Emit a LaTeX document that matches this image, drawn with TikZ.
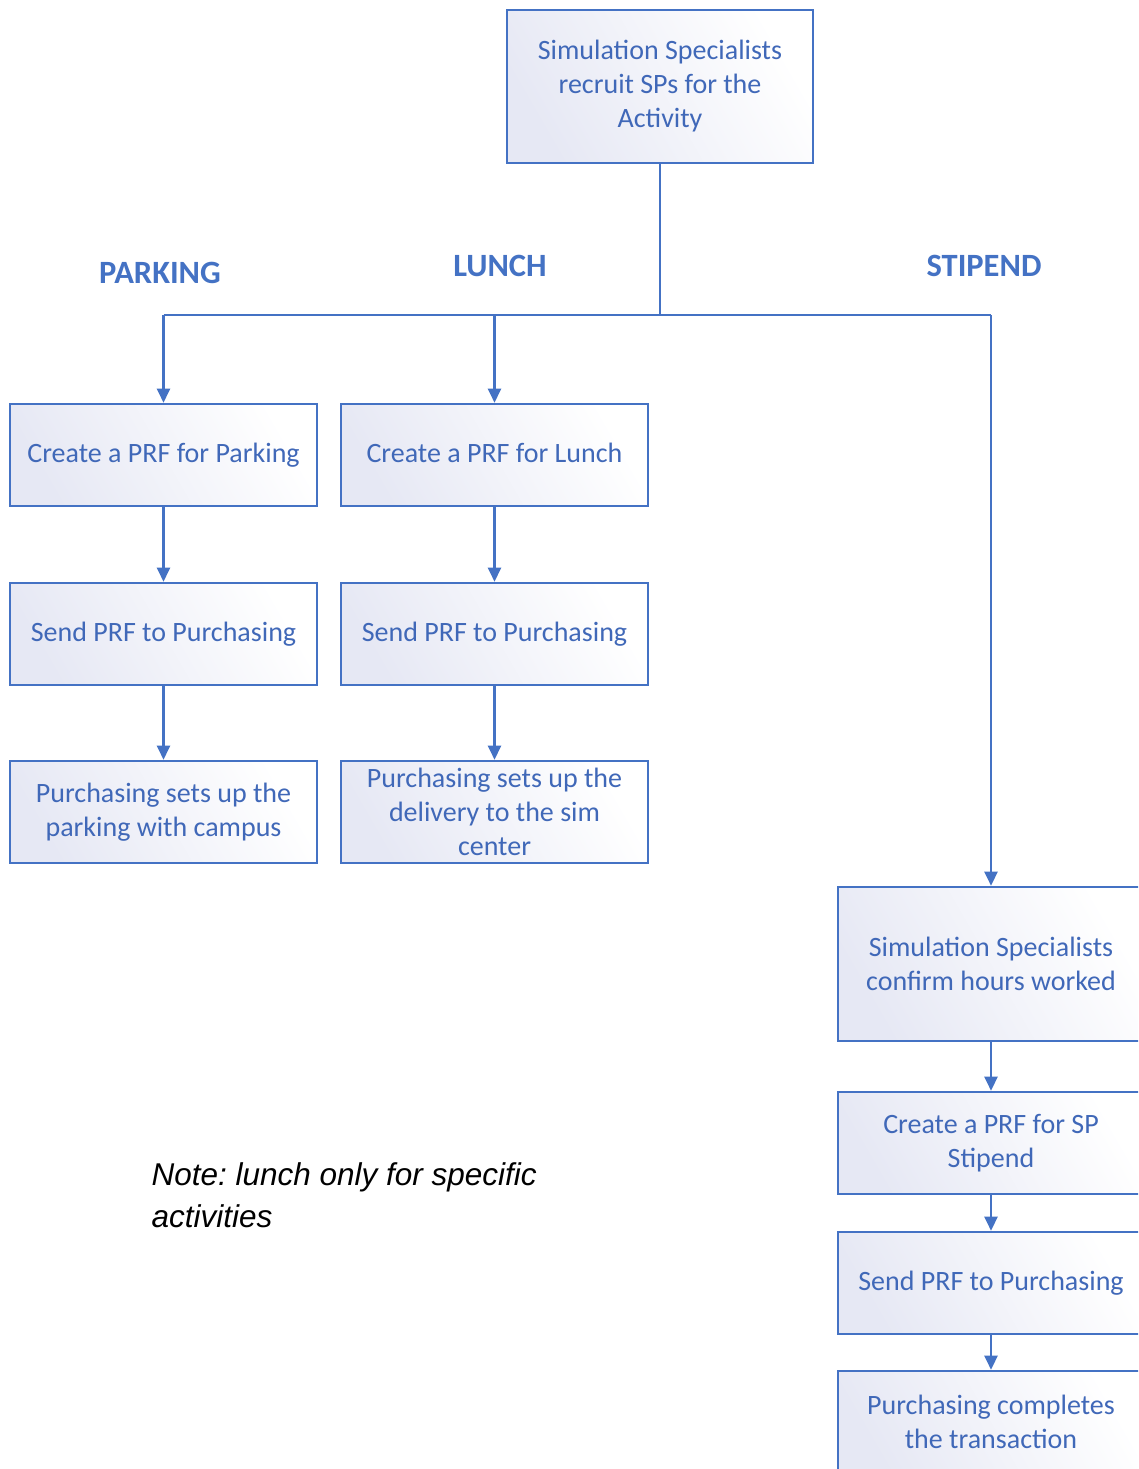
\documentclass[tikz,border=0pt]{standalone}
\usepackage{fontspec}
\setmainfont{Carlito}
\newfontfamily\notefont{Liberation Sans}
\usetikzlibrary{arrows.meta}
\definecolor{bblue}{HTML}{4472C4}
\definecolor{tblue}{HTML}{4068B8}
\definecolor{lav}{HTML}{E6E8F4}
\frenchspacing
\begin{document}
\begin{tikzpicture}[x=1pt,y=-1pt,
  box/.style={draw=bblue, line width=2.6pt, left color=lav, right color=white, shading angle=120,
    minimum width=307pt, minimum height=102pt, align=center, text=tblue,
    font=\fontsize{28}{34}\selectfont, inner sep=0pt},
  head/.style={text=bblue, font=\bfseries\fontsize{32.5}{34}\selectfont},
  conn/.style={draw=bblue, line width=2.4pt},
  arr/.style={conn, -{Triangle[width=13pt,length=14pt]}}
]
\useasboundingbox (0,0) rectangle (1138,1469);
\clip (0,0) rectangle (1138,1469);
\fill[white] (0,0) rectangle (1138,1469);

\node[box, minimum width=306pt, minimum height=153pt] (top) at (660,86.5) {Simulation Specialists\\recruit SPs for the\\Activity};

\node[head] (hp) at (160,273) {PARKING};
\node[head] (hl) at (500,266) {LUNCH};
\node[head] (hs) at (984,266) {STIPEND};

\coordinate (jT) at (660,315);
\coordinate (jP) at (163.5,315);
\coordinate (jL) at (494.5,315);
\coordinate (jS) at (991,315);

\node[box] (p1) at (163.5,455) {Create a PRF for Parking};
\node[box] (p2) at (163.5,634) {Send PRF to Purchasing};
\node[box] (p3) at (163.5,812) {Purchasing sets up the\\parking with campus};

\node[box] (l1) at (494.5,455) {Create a PRF for Lunch\vphantom{g}};
\node[box] (l2) at (494.5,634) {Send PRF to Purchasing};
\node[box] (l3) at (494.5,812) {Purchasing sets up the\\delivery to the sim\\center};

\node[box, minimum width=306pt, minimum height=154pt] (s1) at (991,964) {Simulation Specialists\\confirm hours worked};
\node[box, minimum width=306pt] (s2) at (991,1143) {Create a PRF for SP\\Stipend};
\node[box, minimum width=306pt] (s3) at (991,1283) {Send PRF to Purchasing};
\node[box, minimum width=306pt] (s4) at (991,1422) {Purchasing completes\\the transaction};

\node[anchor=north west, align=left, font=\notefont\itshape\fontsize{31.5}{42}\selectfont] (note) at (148,1159) {Note: lunch only for specific\\activities};

\draw[conn] (top.south) -- (jT);
\draw[conn] (jP) -- (jS);
\draw[arr] (jP) -- (p1.north);
\draw[arr] (jL) -- (l1.north);
\draw[arr] (jS) -- (s1.north);
\draw[arr] (p1) -- (p2);
\draw[arr] (p2) -- (p3);
\draw[arr] (l1) -- (l2);
\draw[arr] (l2) -- (l3);
\draw[arr] (s1) -- (s2);
\draw[arr] (s2) -- (s3);
\draw[arr] (s3) -- (s4);
\end{tikzpicture}
\end{document}
